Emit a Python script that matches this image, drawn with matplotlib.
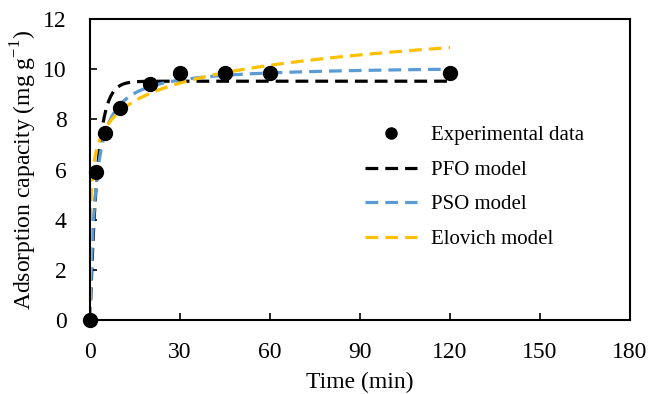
import numpy as np
import matplotlib.pyplot as plt

plt.rcParams['font.family'] = ['Liberation Serif', 'DejaVu Serif']
plt.rcParams['mathtext.fontset'] = 'custom'
plt.rcParams['mathtext.rm'] = 'Liberation Serif'

# experimental data
time_exp = [0, 2, 5, 10, 20, 30, 45, 60, 120]
q_exp = [0, 5.89, 7.44, 8.44, 9.40, 9.84, 9.85, 9.85, 9.86]

# fitted model parameters
pfo_qe, pfo_k = 9.52, 0.40
pso_qe, pso_k = 10.15, 0.054
elo_a, elo_b = 357.0, 0.98

t = np.linspace(0, 120, 1200)
q_pfo = pfo_qe * (1 - np.exp(-pfo_k * t))
q_pso = pso_qe**2 * pso_k * t / (1 + pso_qe * pso_k * t)
q_elo = np.log(1 + elo_a * elo_b * t) / elo_b

fig = plt.figure(figsize=(6.51, 3.94), dpi=100)
ax = fig.add_axes([90/651, 1 - 320/394, 540/651, 301/394])

dash = (4, 2.2)
ax.plot(t, q_pfo, color='black', lw=2.3, ls=(0, dash), label='PFO model', zorder=2)
ax.plot(t, q_pso, color='#5B9BD5', lw=2.3, ls=(0, dash), label='PSO model', zorder=2)
ax.plot(t, q_elo, color='#FFC000', lw=2.3, ls=(0, dash), label='Elovich model', zorder=2)
ax.plot(time_exp, q_exp, 'o', color='black', ms=10, label='Experimental data',
        zorder=3, clip_on=False)

ax.set_xlim(0, 180)
ax.set_ylim(0, 12)
ax.set_xticks(np.arange(0, 181, 30))
ax.set_yticks(np.arange(0, 13, 2))
ax.tick_params(direction='in', length=5, width=1.2, labelsize=17)
ax.tick_params(axis='x', pad=15.5)
ax.tick_params(axis='y', pad=17)
for s in ax.spines.values():
    s.set_linewidth(1.5)

ax.set_xlabel('Time (min)', fontsize=17, labelpad=7)
ax.set_ylabel('Adsorption capacity (mg g$^{\\mathregular{-1}}$)', fontsize=17, labelpad=3)

h, l = ax.get_legend_handles_labels()
order = [3, 0, 1, 2]
leg = ax.legend([h[i] for i in order], [l[i] for i in order], loc='upper left',
                bbox_to_anchor=(0.49, 0.68), frameon=False, fontsize=15,
                handlelength=2.5, labelspacing=0.72, handletextpad=0.65,
                markerscale=0.8, borderpad=0)

fig.savefig('out.png', dpi=100)
